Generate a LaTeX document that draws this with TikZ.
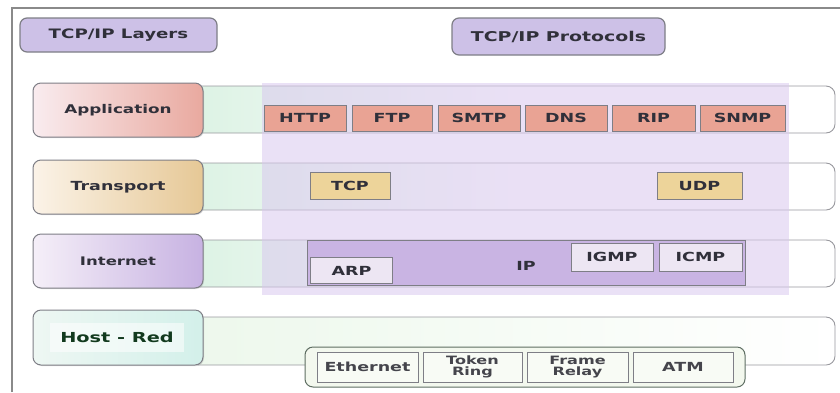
\documentclass[tikz,border=0pt]{standalone}
\usepackage{fontspec}
\setmainfont{DejaVu Sans}
\newfontfamily\wfont[FakeStretch=1.4]{DejaVu Sans}
\usetikzlibrary{shadows}
\definecolor{frameline}{HTML}{8A8A8A}
\definecolor{boxline}{HTML}{7E7E86}
\definecolor{titlefill}{HTML}{CDC1E7}
\definecolor{appL}{HTML}{F9ECEF}
\definecolor{appR}{HTML}{E9A99F}
\definecolor{trL}{HTML}{FBF3E8}
\definecolor{trR}{HTML}{E6C896}
\definecolor{inL}{HTML}{F5EFF8}
\definecolor{inR}{HTML}{C7B2E2}
\definecolor{hostL}{HTML}{EEF7F3}
\definecolor{hostR}{HTML}{D3F0EA}
\definecolor{laneL}{HTML}{DCF2E4}
\definecolor{hostlane}{HTML}{EDF8EC}
\definecolor{panel}{HTML}{D9C8EE}
\definecolor{protofill}{HTML}{E9A394}
\definecolor{tcpfill}{HTML}{EDD49A}
\definecolor{ipfill}{HTML}{C9B4E3}
\definecolor{ipsub}{HTML}{EDE6F3}
\definecolor{linkfill}{HTML}{F3F8EE}
\definecolor{linkline}{HTML}{5E6E62}
\definecolor{txt}{HTML}{30303A}
\definecolor{linktxt}{HTML}{45454C}
\definecolor{hosttxt}{HTML}{123A1E}
\newcommand\fs[1]{\wfont\bfseries\fontsize{#1}{#1}\selectfont}
\newcommand\fsl[2]{\wfont\bfseries\fontsize{#1}{#2}\selectfont}
\begin{document}
\begin{tikzpicture}[x=1pt,y=-1pt,
  every node/.style={inner sep=0pt,font=\fs{12},text=txt},
  titlebox/.style={draw=boxline,line width=1.2pt,rounded corners=7pt,fill=titlefill,
    minimum height=34pt},
  layerbox/.style={draw=boxline,line width=1pt,rounded corners=8pt,
    minimum width=170pt,minimum height=54pt,drop shadow={opacity=0.25,shadow xshift=1pt,shadow yshift=-1pt}},
  lane/.style={draw=boxline!80,line width=0.9pt,rounded corners=9pt,left color=laneL,right color=white,
    middle color=white},
  protobox/.style={draw=boxline,line width=0.9pt,fill=protofill,minimum width=82pt,minimum height=26pt,
    font=\fs{12.5}},
  tbox/.style={draw=boxline,line width=0.9pt,fill=tcpfill,minimum width=82pt,minimum height=27pt,
    font=\fs{12.5}},
  subbox/.style={draw=boxline,line width=0.9pt,fill=ipsub,minimum width=82pt,minimum height=27pt,
    font=\fs{12.5}},
  linkbox/.style={draw=boxline,line width=0.9pt,fill=linkfill!60!white,minimum height=30pt,
    align=center,text=linktxt,font=\fs{12.5}},
  twoline/.style={font=\fsl{11.5}{10.5}}]
\useasboundingbox (0,0) rectangle (840,392);

% outer frame (top and left edges only)
\draw[frameline,line width=1.2pt] (12,392) -- (12,8) -- (840,8);

% column titles
\node[titlebox,minimum width=197pt,font=\fs{13}] (layers) at (118.5,35) {TCP/IP Layers};
\node[titlebox,minimum width=213pt,minimum height=37pt,font=\fs{13.5}] (protos) at (558.5,36.5) {TCP/IP Protocols};

% horizontal lanes behind each layer
\path[lane] (190,86) rectangle (835,133);
\path[lane] (190,163) rectangle (835,210);
\path[lane] (190,240) rectangle (835,287);
\path[draw=boxline!80,line width=0.9pt,rounded corners=9pt,left color=hostlane,right color=white]
  (190,317) rectangle (835,365);

% layer boxes
\node[layerbox,left color=appL,right color=appR] (app) at (118,110) {Application};
\node[layerbox,left color=trL,right color=trR,font=\fs{12.5}] (trans) at (118,187) {Transport};
\node[layerbox,left color=inL,right color=inR,font=\fs{11.8}] (inet) at (118,261) {Internet};
\node[layerbox,left color=hostL,right color=hostR,minimum height=55pt] (host) at (118,337.5) {};
\node[fill=white,fill opacity=0.55,text opacity=1,minimum width=134pt,minimum height=29pt,
  text=hosttxt,font=\fs{13.8}] (hostlbl) at (117,337.5) {Host - Red};

% translucent protocol panel
\fill[panel,opacity=0.55] (262,83) rectangle (789,295);

% application protocols
\node[protobox] (http) at (305,118) {HTTP};
\node[protobox,minimum width=80pt] (ftp) at (392,118) {FTP};
\node[protobox] (smtp) at (479,118) {SMTP};
\node[protobox] (dns) at (566,118) {DNS};
\node[protobox,minimum width=83pt] (rip) at (653.5,118) {RIP};
\node[protobox,minimum width=85pt] (snmp) at (742.5,118) {SNMP};

% transport protocols
\node[tbox,minimum width=80pt] (tcp) at (350,186) {TCP};
\node[tbox,minimum width=85pt] (udp) at (699.5,186) {UDP};

% internet layer
\node[draw=boxline,line width=0.9pt,fill=ipfill,minimum width=438pt,minimum height=45pt] (ip) at (526,262.5) {};
\node[font=\fs{12.5}] (iplbl) at (526,266) {IP};
\node[subbox,anchor=south west,minimum height=26pt] (arp) at (310,284) {ARP};
\node[subbox,minimum height=28pt] (igmp) at (612,257) {IGMP};
\node[subbox,minimum width=83pt,minimum height=28pt] (icmp) at (700.5,257) {ICMP};

% link layer technologies
\node[draw=linkline,line width=1pt,rounded corners=8pt,fill=linkfill,
  minimum width=440pt,minimum height=40pt] (link) at (525,367) {};
\node[linkbox,minimum width=101pt] (eth) at (367.5,367) {Ethernet};
\node[linkbox,twoline,minimum width=99pt] (token) at (472.5,367) {Token\\Ring};
\node[linkbox,twoline,minimum width=101pt] (frame) at (577.5,367) {Frame\\Relay};
\node[linkbox,minimum width=100pt] (atm) at (683,367) {ATM};
\end{tikzpicture}
\end{document}
